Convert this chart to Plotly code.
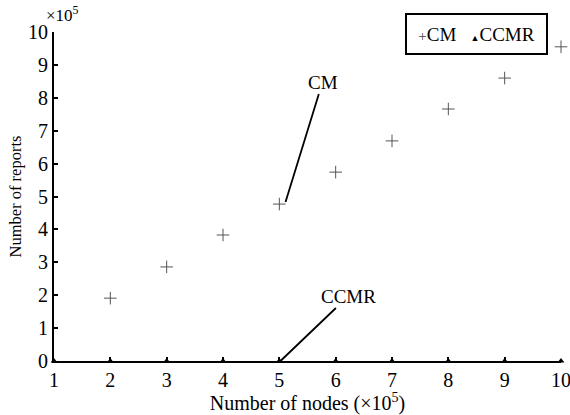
import plotly.graph_objects as go

nodes_cm = [2, 3, 4, 5, 6, 7, 8, 9, 10]
reports_cm = [1.91, 2.86, 3.83, 4.77, 5.74, 6.69, 7.66, 8.60, 9.55]
nodes_ccmr = [1, 2, 3, 4, 5, 6, 7, 8, 9, 10]
reports_ccmr = [0, 0, 0, 0, 0, 0, 0, 0, 0, 0]
x_ticks = [1, 2, 3, 4, 5, 6, 7, 8, 9, 10]
y_ticks = [0, 1, 2, 3, 4, 5, 6, 7, 8, 9, 10]

FONT = "Liberation Serif, Times New Roman, serif"

fig = go.Figure()
fig.add_trace(go.Scatter(
    x=nodes_cm, y=reports_cm, mode="markers", name="CM",
    marker=dict(symbol="cross-thin", size=9, line=dict(width=1, color="#555555"), color="#555555"),
    cliponaxis=False,
))
fig.add_trace(go.Scatter(
    x=nodes_ccmr, y=reports_ccmr, mode="markers", name="CCMR",
    marker=dict(symbol="triangle-up", size=6, color="black"),
    cliponaxis=False,
))

fig.update_layout(
    width=570, height=415,
    margin=dict(l=54, r=9, t=32, b=54, autoexpand=False),
    plot_bgcolor="white", paper_bgcolor="white",
    font=dict(family=FONT, size=19, color="black"),
    showlegend=False,
    xaxis=dict(
        range=[1, 10], tickvals=x_ticks, showgrid=False, zeroline=False,
        showline=True, linecolor="black", linewidth=2,
        ticks="inside", ticklen=4, tickcolor="black", tickwidth=2,
        title=dict(text="Number of nodes (×10<sup>5</sup>)", font=dict(size=20), standoff=1),
        tickfont=dict(size=20), ticklabeloverflow="allow",
    ),
    yaxis=dict(
        range=[0, 10], tickvals=y_ticks, showgrid=False, zeroline=False,
        showline=True, linecolor="black", linewidth=2,
        ticks="inside", ticklen=4, tickcolor="black", tickwidth=2,
        title=dict(text="Number of reports", font=dict(size=16.5), standoff=2),
        tickfont=dict(size=20), ticklabeloverflow="allow",
    ),
)

# legend box (drawn as a bordered text box to match the compact original legend)
fig.add_annotation(
    x=0.834, y=0.994, xref="paper", yref="paper", xanchor="center", yanchor="middle",
    text='<span style="font-size:15px;color:#444">+</span>CM   '
         '<span style="font-size:9px">▲</span>CCMR',
    showarrow=False, bordercolor="black", borderwidth=2, borderpad=6, bgcolor="white",
    width=127, height=26, font=dict(size=19),
)

fig.add_annotation(x=5.11, y=4.83, xref="x", yref="y", text="CM", showarrow=True,
                   arrowhead=0, arrowwidth=1.8, arrowcolor="black", ax=37, ay=-120,
                   font=dict(size=19), standoff=0)
fig.add_annotation(x=5.02, y=0, xref="x", yref="y", text="CCMR", showarrow=True,
                   arrowhead=0, arrowwidth=1.8, arrowcolor="black", ax=68, ay=-65,
                   font=dict(size=19), standoff=0)
fig.add_annotation(x=0.016, y=1.055, xref="paper", yref="paper", text="×10<sup>5</sup>",
                   showarrow=False, xanchor="center", yanchor="middle", font=dict(size=17))

fig.write_html("out.html")
